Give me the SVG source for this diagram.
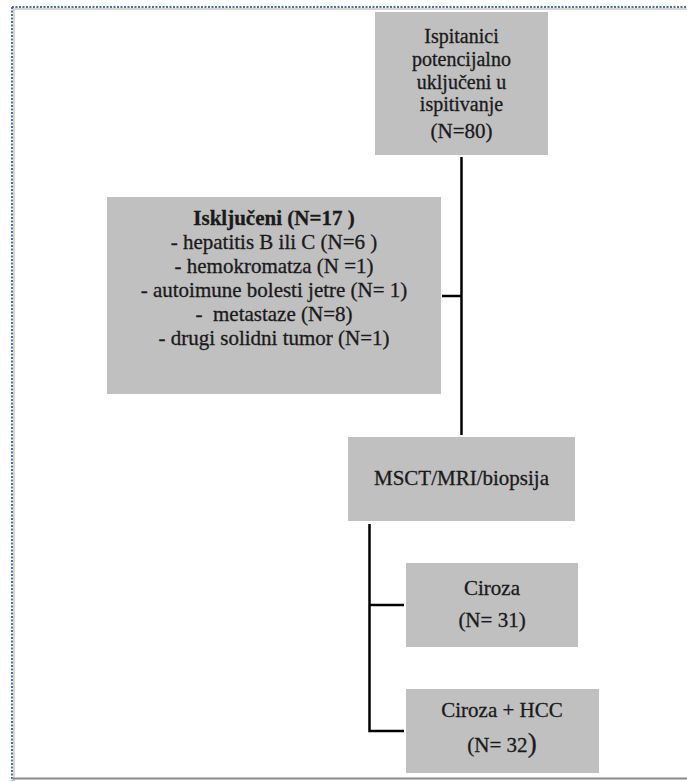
<svg xmlns="http://www.w3.org/2000/svg" width="687" height="781" viewBox="0 0 687 781">
<style>
.box{fill:#c0c0c0;}
.t{font-family:"Liberation Serif","Times New Roman",serif;font-size:21px;fill:#1a1a1a;stroke:#1a1a1a;stroke-width:0.3;text-anchor:middle;}
.s{font-size:20px;}
.b{font-weight:bold;}
.c{stroke:#000;stroke-width:2.5;fill:none;}
</style>
<rect x="0" y="0" width="687" height="781" fill="#fff"/>
<g id="frame">
<line x1="12" y1="9" x2="687" y2="9" stroke="#c8c8c8" stroke-width="1.5"/>
<line x1="14" y1="9" x2="14" y2="781" stroke="#c8c8c8" stroke-width="1.5"/>
<line x1="12" y1="7" x2="687" y2="7" stroke="#4a70a5" stroke-width="2" stroke-dasharray="2,1.5"/>
<line x1="12" y1="7" x2="12" y2="781" stroke="#4a70a5" stroke-width="2" stroke-dasharray="2,1.5"/>
<line x1="12" y1="778.5" x2="687" y2="778.5" stroke="#8a8a8a" stroke-width="2"/>
</g>
<g id="connectors">
<path class="c" d="M461.5 157 V435"/>
<path class="c" d="M442 296 H461.5"/>
<path class="c" d="M369.5 524 V731 H404"/>
<path class="c" d="M369.5 605 H404"/>
</g>
<g id="n1">
<rect class="box" x="375" y="12" width="173" height="143"/>
<text class="t s" x="461.5" y="43">Ispitanici</text>
<text class="t s" x="461.5" y="66">potencijalno</text>
<text class="t s" x="461.5" y="88.5">uključeni u</text>
<text class="t s" x="461.5" y="111">ispitivanje</text>
<text class="t" x="461.5" y="138">(N=80)</text>
</g>
<g id="n2">
<rect class="box" x="107" y="197" width="334" height="197"/>
<text class="t b" x="274" y="225">Isključeni (N=17 )</text>
<text class="t" x="274" y="249">- hepatitis B ili  C (N=6 )</text>
<text class="t" x="274" y="273">- hemokromatza (N =1)</text>
<text class="t" x="274" y="297">- autoimune bolesti jetre (N= 1)</text>
<text class="t" x="274" y="321" xml:space="preserve">-  metastaze (N=8)</text>
<text class="t" x="274" y="345">- drugi solidni tumor (N=1)</text>
</g>
<g id="n3">
<rect class="box" x="348" y="437" width="227" height="84"/>
<text class="t" x="461.5" y="485">MSCT/MRI/biopsija</text>
</g>
<g id="n4">
<rect class="box" x="406" y="563" width="172" height="84"/>
<text class="t" x="492" y="595">Ciroza</text>
<text class="t" x="492" y="627">(N= 31)</text>
</g>
<g id="n5">
<rect class="box" x="406" y="689" width="193" height="84"/>
<text class="t" x="502" y="717">Ciroza + HCC</text>
<text class="t" x="502" y="752">(N= 32<tspan font-size="27">)</tspan></text>
</g>
</svg>
